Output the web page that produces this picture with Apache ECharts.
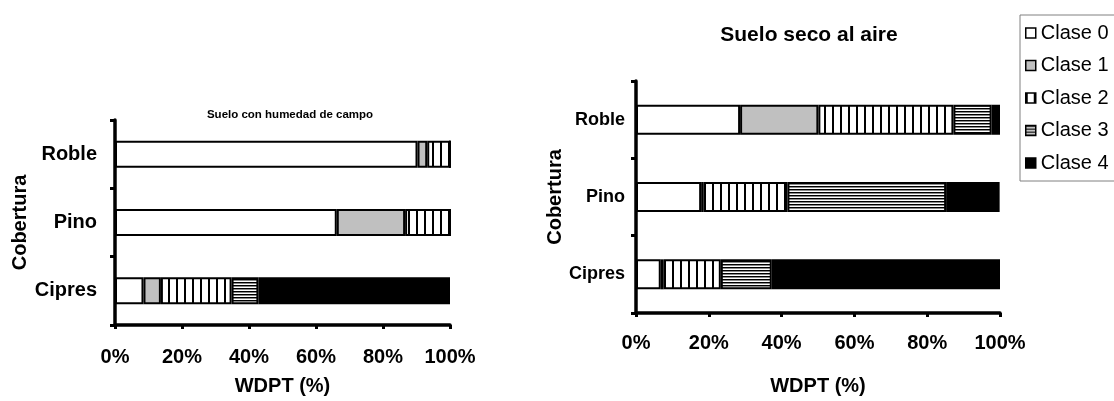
<!DOCTYPE html>
<html>
<head>
<meta charset="utf-8">
<script src="https://cdn.jsdelivr.net/npm/echarts@6/dist/echarts.min.js"></script>
<style>
html,body{margin:0;padding:0;background:#fff;}
#chart{width:1114px;height:401px;}
</style>
</head>
<body>
<div id="chart"></div>
<script>
// ---- data ----
const categories = ['Roble', 'Pino', 'Cipres'];
const classNames = ['Clase 0', 'Clase 1', 'Clase 2', 'Clase 3', 'Clase 4'];
const xTicks = [0, 20, 40, 60, 80, 100];

// Suelo con humedad de campo (left)
const campoClase0 = [90.3, 66.2, 8.5];
const campoClase1 = [2.9, 20.4, 5.2];
const campoClase2 = [6.8, 13.4, 21.1];
const campoClase3 = [0, 0, 8.0];
const campoClase4 = [0, 0, 57.2];

// Suelo seco al aire (right)
const secoClase0 = [28.6, 17.9, 6.8];
const secoClase1 = [21.5, 0.6, 0.8];
const secoClase2 = [37.1, 23.1, 15.7];
const secoClase3 = [10.5, 43.6, 14.0];
const secoClase4 = [2.3, 14.7, 62.7];

const titleLeft = 'Suelo con humedad de campo';
const titleRight = 'Suelo seco al aire';
const xName = 'WDPT (%)';
const yName = 'Cobertura';

// ---- patterns ----
function vStripes() {
  const c = document.createElement('canvas');
  c.width = 8; c.height = 8;
  const g = c.getContext('2d');
  g.fillStyle = '#fff'; g.fillRect(0, 0, 8, 8);
  g.fillStyle = '#000'; g.fillRect(0, 0, 2, 8);
  return c;
}
function hStripes() {
  const c = document.createElement('canvas');
  c.width = 4; c.height = 3;
  const g = c.getContext('2d');
  g.fillStyle = '#fff'; g.fillRect(0, 0, 4, 3);
  g.fillStyle = '#000'; g.fillRect(0, 0, 4, 1);
  g.fillStyle = '#8a8a8a'; g.fillRect(0, 1, 4, 1);
  return c;
}
const fills = [
  '#ffffff',
  '#c0c0c0',
  { image: vStripes(), repeat: 'repeat' },
  { image: hStripes(), repeat: 'repeat' },
  '#000000'
];

const FONT = "'Liberation Sans', Arial, sans-serif";
const campo = [campoClase0, campoClase1, campoClase2, campoClase3, campoClase4];
const seco = [secoClase0, secoClase1, secoClase2, secoClase3, secoClase4];

function makeSeries(arrs, idx, stack, bw) {
  return arrs.map((d, i) => ({
    name: classNames[i],
    type: 'bar',
    stack: stack,
    xAxisIndex: idx,
    yAxisIndex: idx,
    barWidth: bw,
    data: d,
    itemStyle: { color: fills[i], borderColor: '#000', borderWidth: 2 },
    emphasis: { disabled: true }
  }));
}

function xAxis(gridIndex, labelMargin, nameGap) {
  return {
    type: 'value', gridIndex: gridIndex, min: 0, max: 100, interval: 20,
    axisLine: { show: true, lineStyle: { color: '#000', width: 3.5 } },
    axisTick: { show: true, length: 4, lineStyle: { color: '#000', width: 3 } },
    splitLine: { show: false },
    axisLabel: { formatter: '{value}%', color: '#000', fontSize: 20, fontWeight: 'bold', fontFamily: FONT, margin: labelMargin },
    name: xName, nameLocation: 'middle', nameGap: nameGap,
    nameTextStyle: { color: '#000', fontSize: 20, fontWeight: 'bold', fontFamily: FONT }
  };
}
function yAxis(gridIndex, labelSize, labelMargin, nameGap) {
  return {
    type: 'category', gridIndex: gridIndex, data: categories, inverse: true,
    axisLine: { show: true, lineStyle: { color: '#000', width: 3.5 } },
    axisTick: { show: true, length: 5, lineStyle: { color: '#000', width: 3 } },
    axisLabel: { color: '#000', fontSize: labelSize, fontWeight: 'bold', fontFamily: FONT, margin: labelMargin },
    name: yName, nameLocation: 'middle', nameGap: nameGap, nameRotate: 90,
    nameTextStyle: { color: '#000', fontSize: 20, fontWeight: 'bold', fontFamily: FONT }
  };
}

const chart = echarts.init(document.getElementById('chart'));
chart.setOption({
  animation: false,
  backgroundColor: '#fff',
  title: [
    { text: titleLeft, left: 285, top: 104, textAlign: 'center',
      textStyle: { fontSize: 11.5, fontWeight: 'bold', color: '#000', fontFamily: FONT } },
    { text: titleRight, left: 804, top: 20, textAlign: 'center',
      textStyle: { fontSize: 21, fontWeight: 'bold', color: '#000', fontFamily: FONT } }
  ],
  legend: {
    data: classNames,
    orient: 'vertical',
    left: 1020, top: 15,
    padding: [7, 40, 7, 5],
    itemGap: 10.5,
    itemWidth: 10, itemHeight: 10,
    itemTextGap: 17,
    icon: 'rect',
    borderColor: '#808080', borderWidth: 1,
    itemStyle: { borderColor: '#000', borderWidth: 1.5 },
    textStyle: { color: '#000', fontSize: 20, fontFamily: FONT, lineHeight: 22 },
    selectedMode: false
  },
  grid: [
    { left: 115, top: 120, width: 335, height: 207, containLabel: false },
    { left: 636, top: 81, width: 364, height: 234, containLabel: false }
  ],
  xAxis: [xAxis(0, 22, 51), xAxis(1, 20, 63)],
  yAxis: [yAxis(0, 20, 18, 83), yAxis(1, 18, 11, 71)],
  series: makeSeries(campo, 0, 'campo', 27).concat(makeSeries(seco, 1, 'seco', 30))
});
</script>
</body>
</html>
